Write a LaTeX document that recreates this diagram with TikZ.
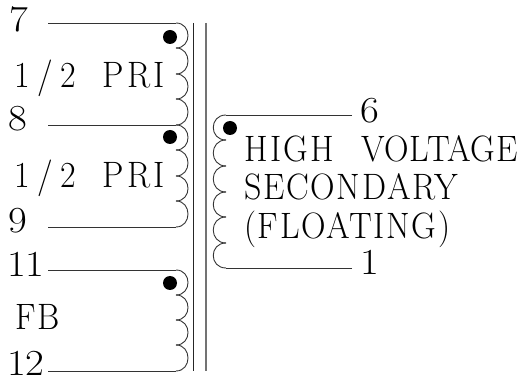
\documentclass[tikz,border=0pt]{standalone}
\usepackage{fontspec}
\setmainfont{Latin Modern Roman}
\newcommand{\spaced}[2]{{\addfontfeature{LetterSpace=#1}#2}}
\tikzset{
  wire/.style={draw=black!80,line width=0.9pt},
  corel/.style={draw=black!85,line width=0.9pt},
  corer/.style={draw=black!55,line width=1.1pt},
  dotmark/.style={circle,fill=black,inner sep=0pt,minimum size=14pt},
  lab/.style={inner sep=0pt,anchor=base west,font=\fontsize{34}{34}\selectfont,yscale=1.08,transform shape},
  dig/.style={lab,xscale=1.2},
  hump/.style={out=0,in=0,out distance=16pt,in distance=16pt},
  humpl/.style={out=180,in=180,out distance=17pt,in distance=17pt}
}
\begin{document}
\begin{tikzpicture}[x=1pt,y=-1pt]
\useasboundingbox (0,0) rectangle (523,382);
% labels
\node[dig] (n7) at (9,32) {7};
\node[lab] (pa) at (14,88) {\spaced{22}{1/2}\hspace{0.78em}\spaced{10}{PRI}};
\node[dig] (n8) at (8,131) {8};
\node[lab] (pb) at (14,188) {\spaced{22}{1/2}\hspace{0.78em}\spaced{10}{PRI}};
\node[dig] (n9) at (8,233) {9};
\node[dig] (n11) at (7,277) {11};
\node[lab] (fb) at (15,330) {\spaced{6}{FB}};
\node[dig] (n12) at (7,376) {12};
\node[dig] (n6) at (360,123) {6};
\node[lab] (ta) at (244,161.5) {\spaced{7}{HIGH}\hspace{0.8em}\spaced{1.5}{VOLTAGE}};
\node[lab] (tb) at (244,200) {\spaced{5}{SECONDARY}};
\node[lab] (tc) at (244,239) {\spaced{5}{(FLOATING)}};
\node[dig] (n1) at (360,275) {1};
% terminals
\coordinate (t7) at (48,23);
\coordinate (t8) at (48,125);
\coordinate (t9) at (48,227);
\coordinate (t11) at (48,270);
\coordinate (t12) at (48,371);
\coordinate (t6) at (352,115);
\coordinate (t1) at (352,268);
% primary windings
\foreach \ya/\yb in {23/48,48/74,74/99,99/125,125/150,150/176,176/201,201/227,270/295,295/320,320/345,345/371}{
  \coordinate (a) at (176,\ya);
  \coordinate (b) at (176,\yb);
  \draw[wire] (a) to[hump] (b);
}
\draw[wire] (t7) -- (176,23);
\draw[wire] (t8) -- (176,125);
\draw[wire] (t9) -- (176,227);
\draw[wire] (t11) -- (176,270);
\draw[wire] (t12) -- (176,371);
% secondary winding
\foreach \ya/\yb in {115/140,140/166,166/192,192/217,217/243,243/268}{
  \coordinate (a) at (226,\ya);
  \coordinate (b) at (226,\yb);
  \draw[wire] (a) to[humpl] (b);
}
\draw[wire] (t6) -- (226,115);
\draw[wire] (t1) -- (226,268);
% core
\coordinate (c1) at (193.5,23);
\coordinate (c2) at (193.5,371);
\coordinate (c3) at (206,23);
\coordinate (c4) at (206,371);
\draw[corel] (c1) -- (c2);
\draw[corer] (c3) -- (c4);
% dots
\node[dotmark] (d1) at (170,37) {};
\node[dotmark] (d2) at (170,137) {};
\node[dotmark] (d3) at (170,283) {};
\node[dotmark] (d4) at (230,128) {};
\end{tikzpicture}
\end{document}
